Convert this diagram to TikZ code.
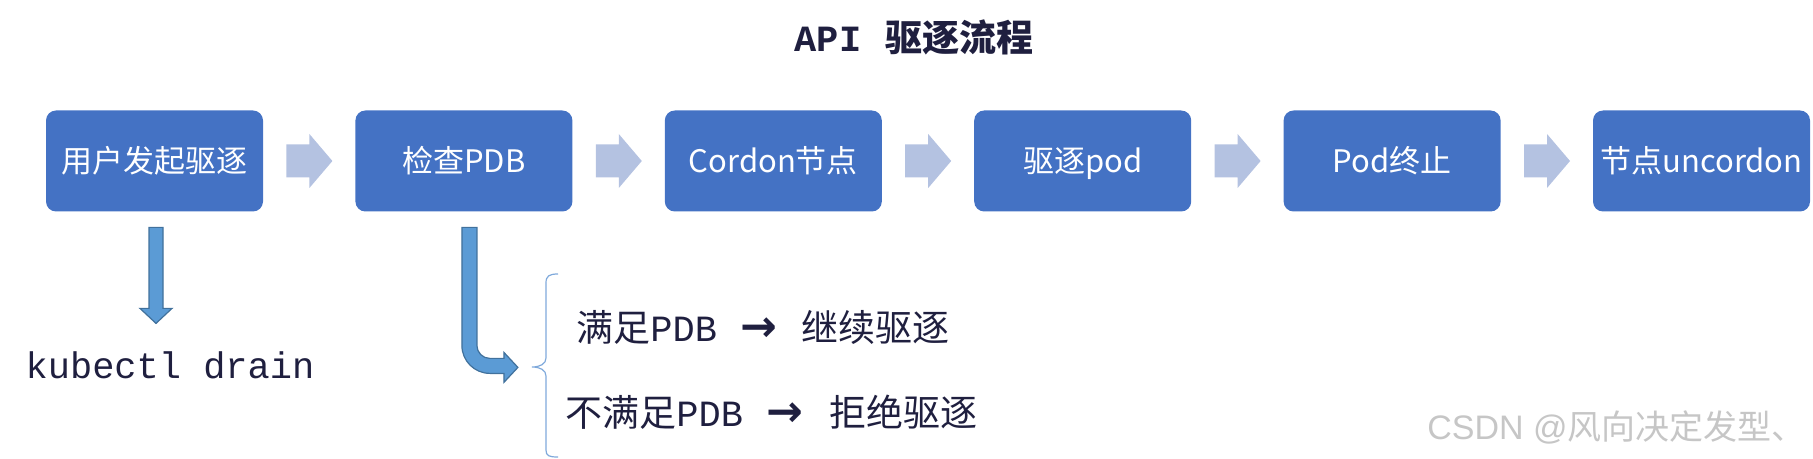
\documentclass[tikz,border=0pt]{standalone}
\usepackage{fontspec}
\setmainfont{Noto Sans CJK SC}
\newfontfamily\mono{Liberation Mono}
\newfontfamily\arrowfont{DejaVu Sans}
\newfontfamily\wmfont{Liberation Sans}
\usetikzlibrary{positioning,calc}
\definecolor{boxblue}{HTML}{4472C4}
\definecolor{chevron}{HTML}{B4C2E1}
\definecolor{downblue}{HTML}{5B9BD5}
\definecolor{downedge}{HTML}{41719C}
\definecolor{inkblue}{HTML}{1F1F3F}
\definecolor{bracecol}{HTML}{7FA9DB}
\newcommand\goarrow{{\arrowfont\bfseries\fontsize{22}{22}\selectfont →}}
\tikzset{
  stepbox/.style={fill=boxblue,text=white,rounded corners=5pt,minimum width=108.5pt,
    minimum height=50.5pt,inner sep=0pt,text height=13.5pt,text depth=1.9pt,
    font=\fontsize{15.5}{18}\selectfont},
  flowarrow/.style={fill=chevron},
  downarrow/.style={fill=downblue,draw=downedge,line width=0.6pt},
  plain/.style={inner sep=0pt,text=inkblue,font=\fontsize{18.5}{22}\selectfont},
}
\begin{document}
\begin{tikzpicture}[x=0.5pt,y=-0.5pt]
  \useasboundingbox (0,0) rectangle (1813,459);
  % 标题
  \node[plain,font=\fontsize{18.5}{22}\selectfont\bfseries] (title) at (914,37) {{\mono API}\hspace{12pt}驱逐流程};
  % 流程框
  \node[stepbox] (b1) at (154.5,161) {用户发起驱逐};
  \node[stepbox,right=45.8pt of b1] (b2) {检查PDB};
  \node[stepbox,right=45.8pt of b2] (b3) {Cordon节点};
  \node[stepbox,right=45.8pt of b3] (b4) {驱逐pod};
  \node[stepbox,right=45.8pt of b4] (b5) {Pod终止};
  \node[stepbox,right=45.8pt of b5] (b6) {节点uncordon};
  % 框间箭头
  \foreach \a/\b in {b1/b2,b2/b3,b3/b4,b4/b5,b5/b6}
    \fill[flowarrow] ($(\a.east)+(23,-16.5)$) -- ++(23,0) -- ++(0,-10.5) -- ++(23,27)
      -- ++(-23,27) -- ++(0,-10.5) -- ++(-23,0) -- cycle;
  % kubectl drain
  \node[plain,font=\mono\fontsize{18.5}{22}\selectfont] (drain) at (170,365) {kubectl drain};
  \filldraw[downarrow] ($(b1.south)+(-5.5,15.5)$) -- ++(0,81) -- ++(-9,0) -- ++(16,15)
    -- ++(16,-15) -- ++(-9,0) -- ++(0,-81) -- cycle;
  % 检查PDB 的分支
  \filldraw[downarrow,shift={(b2.south)}] (-2,15.5) -- (-2,133.5)
    .. controls (-2,149) and (10.5,161.5) .. (26,161.5) -- (40,161.5) -- (40,170.5)
    -- (54,155.5) -- (40,140.5) -- (40,146.5) -- (26,146.5)
    .. controls (18.8,146.5) and (13,140.7) .. (13,133.5) -- (13,15.5) -- cycle;
  \draw[bracecol,line width=0.6pt] (558,274) .. controls (549,274) and (546,276) .. (546,283)
    -- (546,358) .. controls (546,364) and (540,367) .. (532,367)
    .. controls (540,367) and (546,370) .. (546,376) -- (546,450)
    .. controls (546,456) and (549,457) .. (558,457);
  \node[plain,anchor=west] (ok) at (576,327) {满足{\mono PDB}\hspace{11.5pt}\goarrow\hspace{12.5pt}继续驱逐};
  \node[plain,anchor=west] (ng) at (565,412) {不满足{\mono PDB}\hspace{11.5pt}\goarrow\hspace{13.5pt}拒绝驱逐};
  % 水印
  \node[inner sep=0pt,anchor=west,text=gray!45,font=\fontsize{17}{20}\selectfont] (mark) at (1427,427) {{\wmfont CSDN @}风向决定发型、};
\end{tikzpicture}
\end{document}
